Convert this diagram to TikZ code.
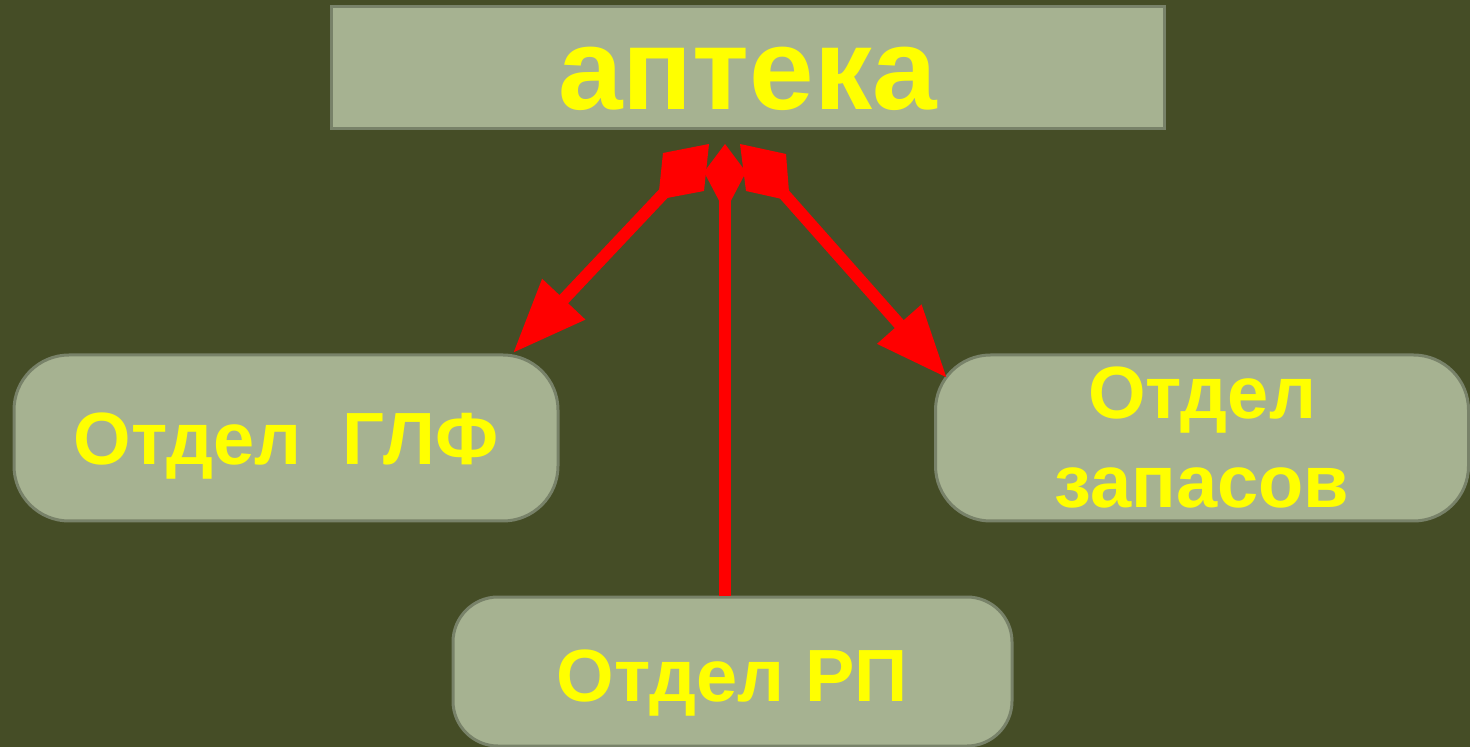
\documentclass[tikz,border=0pt]{standalone}
\usepackage{fontspec}
\setmainfont{Liberation Sans}
\usetikzlibrary{arrows.meta}
\definecolor{bg}{RGB}{69,77,38}
\definecolor{boxf}{RGB}{166,178,145}
\definecolor{boxd}{RGB}{120,130,105}
\definecolor{txt}{RGB}{255,255,0}
\definecolor{arr}{RGB}{255,0,0}
\begin{document}
\begin{tikzpicture}[x=0.5pt,y=-0.5pt,
  box/.style={draw=boxd, line width=1.5pt, fill=boxf, text=txt, align=center, inner sep=0pt,
    font=\bfseries\fontsize{37}{40}\selectfont},
  dept/.style={box, rounded corners=27.5pt, minimum height=83pt},
  conn/.style={draw=arr, line width=6pt},
  tail/.style={fill=arr},
]
\fill[bg] (0,0) rectangle (1470,747);
\useasboundingbox (0,0) rectangle (1470,747);

\node[box, minimum width=416.5pt, minimum height=61pt, text height=42pt, text depth=0pt,
  font=\bfseries\fontsize{58}{60}\selectfont] (apteka) at (747.5,68) {аптека};
\node[dept, minimum width=272pt, text height=27pt, text depth=0pt] (glf) at (286,438) {Отдел\ \ ГЛФ};
\node[dept, minimum width=266.5pt, font=\bfseries\fontsize{37}{44.5}\selectfont] (zap) at (1202,438) {Отдел\\запасов};
\node[dept, rounded corners=22.5pt, minimum width=279.5pt, minimum height=74.5pt,
  text height=29.5pt, text depth=0pt] (rp) at (732.5,671.5) {Отдел РП};

\coordinate (vtip) at (725,144);
\coordinate (lstart) at (680,176);
\coordinate (lend) at (513,353);
\coordinate (rstart) at (768,176);
\coordinate (rend) at (947,378);

\draw[conn, -{Triangle[length=37pt,width=28pt]}] (lstart) -- (lend);
\draw[conn, -{Triangle[length=36pt,width=28pt]}] (rstart) -- (rend);
\fill[tail] (663,153) -- (709,144) -- (704,191) -- (667,198) -- (659,191) -- cycle;
\fill[tail] (740,144) -- (786,154) -- (789,192) -- (782,199) -- (746,191) -- cycle;
\draw[conn, -{Kite[length=34pt,width=21pt,inset=20pt]}] (rp.north -| vtip) -- (vtip);
\end{tikzpicture}
\end{document}
